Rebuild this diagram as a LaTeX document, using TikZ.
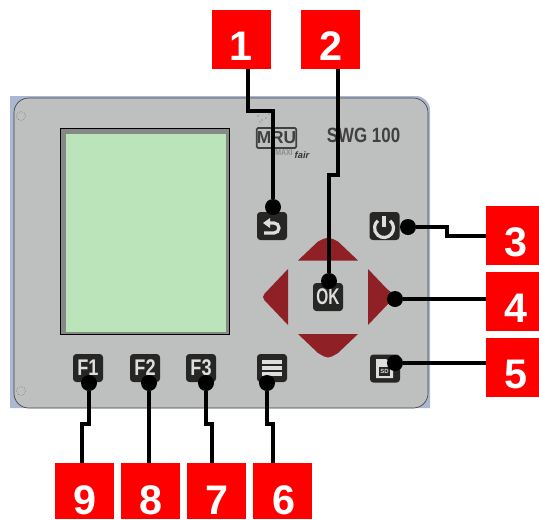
\documentclass[tikz,border=0pt]{standalone}
\usepackage{fontspec}
\setmainfont{Liberation Sans}
\usetikzlibrary{calc}
\definecolor{panelgrey}{RGB}{190,192,191}
\definecolor{panelblue}{RGB}{172,184,210}
\definecolor{lcdgreen}{RGB}{187,228,187}
\definecolor{lcdgrey}{RGB}{135,137,135}
\definecolor{keyblack}{RGB}{38,38,36}
\definecolor{keywhite}{RGB}{222,222,222}
\definecolor{padred}{RGB}{142,32,38}
\definecolor{tagred}{RGB}{255,0,0}
\newcommand{\keytext}[2]{\scalebox{#1}[1]{#2}}
\tikzset{
  tagbox/.style={fill=tagred, minimum width=44.25pt, minimum height=44.25pt, inner sep=0pt,
    text=white, text height=31pt, text depth=0pt, font=\fontsize{31}{31}\selectfont\bfseries},
  tagright/.style={tagbox, minimum width=39.75pt},
  tagbottom/.style={tagbox, minimum height=42pt, text height=34.5pt},
  keybox/.style={fill=keyblack, rounded corners=2.5pt, minimum width=22.5pt, minimum height=21pt,
    inner sep=0pt, text=keywhite, font=\fontsize{17}{17}\selectfont\bfseries},
  icon/.style={keywhite, line width=2.4pt},
  wiredot/.style={circle, fill=black, minimum size=12pt, inner sep=0pt},
  wire/.style={black, line width=3pt}
}
\begin{document}
\begin{tikzpicture}[x=0.75pt,y=-0.75pt]
\useasboundingbox (0,0) rectangle (539,519);

% panel
\fill [panelblue] (10,96) -- (416,96) arc (-90:0:14) -- (430,408) -- (10,408) -- cycle;
\draw [panelgrey!35!black, fill=panelgrey, rounded corners=11pt, line width=0.5pt]
  (14,98) rectangle (428,408);
\fill [lcdgrey] (60,128) rectangle (229.5,334);
\draw [black, line width=0.6pt] (60.5,128) rectangle (229.5,334);
\fill [lcdgreen] (65.5,134) rectangle (226,331.5);
\foreach \y in {116,391}
  \draw [black!60, densely dotted, line width=0.4pt] (21,\y) circle (4.5);
\foreach \x/\y in {258/116,262/120,266/118,269/114,260/122}
  \fill [black!60] (\x,\y) circle (0.6);

% logo and type
\node (logo) [draw=black!75, line width=1.3pt, rounded corners=1pt, inner sep=0pt,
  font=\fontsize{13}{13}\selectfont\bfseries, text=black!75,
  minimum width=28pt, minimum height=15pt] at (276.5,138) {MRU};
\node (logosub) [font=\fontsize{6.5}{6.5}\selectfont\bfseries, text=black!45] at (284,153) {\keytext{.8}{MAXI}};
\node (logofair) [font=\fontsize{7}{7}\selectfont\bfseries\itshape, text=black!80] at (302,155) {fair};
\node (title) [font=\fontsize{15.5}{15.5}\selectfont\bfseries, text=black!75] at (363.5,135.5) {\keytext{.82}{SWG 100}};

% arrow pad
\fill [padred] (298,260.5) -- (318,241.5) .. controls (328,236.5) .. (338,241.5) -- (358,260.5) -- cycle;
\fill [padred] (298,334) -- (318,353) .. controls (328,359) .. (338,353) -- (358,334) -- cycle;
\fill [padred] (288,269) -- (269,289) .. controls (261,297) .. (269,305) -- (288,325) -- cycle;
\fill [padred] (368,269) -- (387,289) .. controls (397,297) .. (387,305) -- (368,325) -- cycle;

% keys
\node (keyback) [keybox] at (272,226) {};
\node (keypower) [keybox] at (384.5,226) {};
\node (keyok) [keybox] at (328,297) {\keytext{.68}{OK}};
\node (keymenu) [keybox] at (272,368) {};
\node (keysd) [keybox] at (385,368.5) {};
\node (keyfone) [keybox] at (88,368) {\keytext{.8}{F1}};
\node (keyftwo) [keybox] at (145,368) {\keytext{.8}{F2}};
\node (keyfthree) [keybox] at (201,368) {\keytext{.8}{F3}};

% key icons
\draw [icon] (268,223) -- (274,223) arc (-90:90:5) -- (264,233);
\fill [keywhite] (263,223) -- (270,218) -- (270,228) -- cycle;
\draw [icon] (384,228) ++(-50:9.5) arc (-50:230:9.5);
\draw [icon, line width=2.8pt] (384,216) -- (384,227);
\foreach \y in {362,368,374}
  \draw [icon, line width=2.8pt] (262,\y) -- (282,\y);
\fill [keywhite] (376,359) -- (386,359) -- (393,364) -- (393,378) -- (376,378) -- cycle;
\fill [keyblack] (379,367) rectangle (390,376);
\node (sdlabel) [font=\fontsize{4.5}{4.5}\selectfont\bfseries, text=keywhite] at (384.5,371.5) {SD};

% numbered tags
\foreach \n/\t/\x in {one/1/241,two/2/330.5}
  \node (tag\n) [tagbox] at (\x,39.5) {\t};
\foreach \n/\t/\y in {three/3/235.5,four/4/301.5,five/5/367.5}
  \node (tag\n) [tagright] at (512.5,\y) {\hspace*{5pt}\t};
\foreach \n/\t/\x in {six/6/282.5,seven/7/216,eight/8/150,nine/9/84}
  \node (tag\n) [tagbottom] at (\x,491) {\hspace*{2pt}\t};

% connector ends
\foreach \n/\x/\y in {one/273/207,two/329/281,three/408/227,four/395/299,five/395/363,
                      six/267/383,seven/206/383,eight/149/383,nine/89/383}
  \node (dot\n) [wiredot] at (\x,\y) {};

\draw [wire] ($(tagone.south)+(7,0)$) -- ++(0,42) -| (dotone);
\draw [wire] ($(tagtwo.south)+(7,0)$) -- ++(0,106) -| (dottwo);
\draw [wire] (dotthree) -- ++(39,0) |- (tagthree.west);
\draw [wire] (dotfour) -- (dotfour -| tagfour.west);
\draw [wire] (dotfive) -- (dotfive -| tagfive.west);
\draw [wire] (dotsix) -- ++(0,41) -| ($(tagsix.north)+(-9.5,0)$);
\draw [wire] (dotseven) -- ++(0,41) -| ($(tagseven.north)+(-4,0)$);
\draw [wire] (doteight) -- (doteight |- tageight.north);
\draw [wire] (dotnine) -- ++(0,41) -| ($(tagnine.north)+(-2,0)$);
\end{tikzpicture}
\end{document}
